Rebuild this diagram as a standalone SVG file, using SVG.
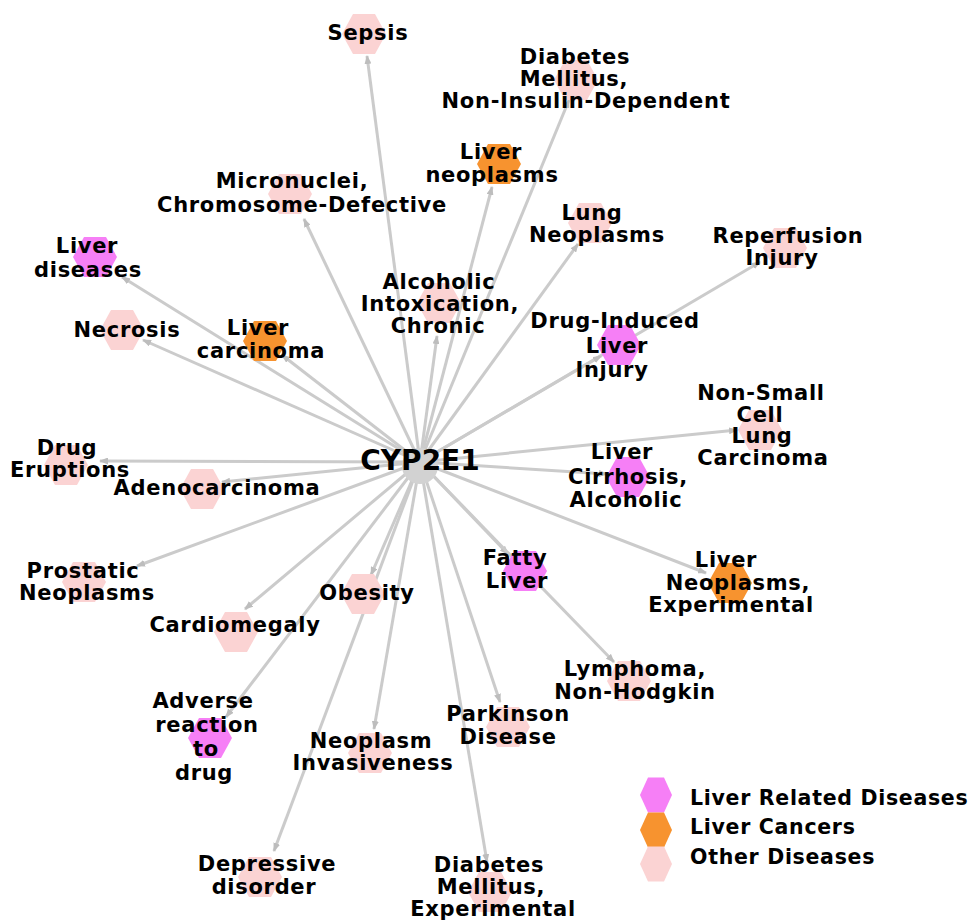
<svg xmlns="http://www.w3.org/2000/svg" width="971" height="923" viewBox="0 0 971 923">
<style>
.e{stroke:#cbcbcb;stroke-width:3;fill:none;marker-end:url(#ah)}
.p{fill:#fbd3d3}.m{fill:#f67ff6}.o{fill:#f7932f}
text{font-family:"DejaVu Sans",sans-serif;font-weight:bold;fill:#000}
.l{font-size:21px;letter-spacing:0.7px;text-anchor:middle}
.g{font-size:20.5px;letter-spacing:0.7px}
</style>
<defs>
<marker id="ah" markerUnits="userSpaceOnUse" markerWidth="9" markerHeight="7" refX="8" refY="3.5" orient="auto"><path d="M0,0 L9,3.5 L0,7 z" fill="#bdbdbd"/></marker>
<path id="hx" d="M-22,0 L-11,-20 L11,-20 L22,0 L11,20 L-11,20 z"/>
<path id="hs" d="M-16,0 L-8,-17.5 L8,-17.5 L16,0 L8,17.5 L-8,17.5 z"/>
</defs>
<rect width="971" height="923" fill="#fff"/>
<g id="edges">
<line class="e" x1="420" y1="462" x2="367" y2="56"/>
<line class="e" x1="420" y1="462" x2="569" y2="100"/>
<line class="e" x1="420" y1="462" x2="492" y2="187"/>
<line class="e" x1="420" y1="462" x2="304" y2="219"/>
<line class="e" x1="420" y1="462" x2="578" y2="244"/>
<line class="e" x1="420" y1="462" x2="760" y2="262"/>
<line class="e" x1="420" y1="462" x2="122" y2="277"/>
<line class="e" x1="420" y1="462" x2="437" y2="336"/>
<line class="e" x1="420" y1="462" x2="143" y2="340"/>
<line class="e" x1="420" y1="462" x2="282" y2="355"/>
<line class="e" x1="420" y1="462" x2="601" y2="356"/>
<line class="e" x1="420" y1="462" x2="737" y2="430"/>
<line class="e" x1="420" y1="462" x2="100" y2="461"/>
<line class="e" x1="420" y1="462" x2="222" y2="482"/>
<line class="e" x1="420" y1="462" x2="607" y2="474"/>
<line class="e" x1="420" y1="462" x2="137" y2="566"/>
<line class="e" x1="420" y1="462" x2="245" y2="609"/>
<line class="e" x1="420" y1="462" x2="371" y2="575"/>
<line class="e" x1="420" y1="462" x2="508" y2="554"/>
<line class="e" x1="420" y1="462" x2="706" y2="573"/>
<line class="e" x1="420" y1="462" x2="614" y2="662"/>
<line class="e" x1="420" y1="462" x2="226" y2="717"/>
<line class="e" x1="420" y1="462" x2="374" y2="729"/>
<line class="e" x1="420" y1="462" x2="500" y2="702"/>
<line class="e" x1="420" y1="462" x2="274" y2="851"/>
<line class="e" x1="420" y1="462" x2="487" y2="862"/>
</g>
<g id="n-sepsis"><use href="#hx" class="p" x="364" y="34"/><text class="l"><tspan x="368" y="40">Sepsis</tspan></text></g>
<g id="n-dm-nid"><use href="#hx" class="p" x="576" y="80"/><text class="l"><tspan x="575" y="64">Diabetes</tspan><tspan x="574" y="86">Mellitus,</tspan><tspan x="586" y="108">Non-Insulin-Dependent</tspan></text></g>
<g id="n-liver-neoplasms"><use href="#hx" class="o" x="499" y="164"/><text class="l"><tspan x="491" y="159">Liver</tspan><tspan x="492" y="182">neoplasms</tspan></text></g>
<g id="n-micronuclei"><use href="#hx" class="p" x="290" y="194"/><text class="l"><tspan x="292" y="188">Micronuclei,</tspan><tspan x="302" y="212">Chromosome-Defective</tspan></text></g>
<g id="n-lung-neoplasms"><use href="#hx" class="p" x="590" y="223"/><text class="l"><tspan x="592" y="220">Lung</tspan><tspan x="597" y="242">Neoplasms</tspan></text></g>
<g id="n-reperfusion"><use href="#hx" class="p" x="785" y="248"/><text class="l"><tspan x="788" y="243">Reperfusion</tspan><tspan x="782" y="265">Injury</tspan></text></g>
<g id="n-liver-diseases"><use href="#hx" class="m" x="95" y="257"/><text class="l"><tspan x="87" y="253">Liver</tspan><tspan x="88" y="277">diseases</tspan></text></g>
<g id="n-alcoholic"><use href="#hx" class="p" x="439" y="303"/><text class="l"><tspan x="439" y="289">Alcoholic</tspan><tspan x="440" y="311">Intoxication,</tspan><tspan x="438" y="333">Chronic</tspan></text></g>
<g id="n-necrosis"><use href="#hx" class="p" x="122" y="330"/><text class="l"><tspan x="127" y="337">Necrosis</tspan></text></g>
<g id="n-liver-carcinoma"><use href="#hx" class="o" x="265" y="341"/><text class="l"><tspan x="258" y="335">Liver</tspan><tspan x="261" y="358">carcinoma</tspan></text></g>
<g id="n-dili"><use href="#hx" class="m" x="619" y="345"/><text class="l"><tspan x="615" y="328">Drug-Induced</tspan><tspan x="617" y="353">Liver</tspan><tspan x="612" y="377">Injury</tspan></text></g>
<g id="n-nsclc"><use href="#hx" class="p" x="760" y="430"/><text class="l"><tspan x="761" y="400">Non-Small</tspan><tspan x="760" y="422">Cell</tspan><tspan x="762" y="443">Lung</tspan><tspan x="763" y="465">Carcinoma</tspan></text></g>
<g id="n-drug-eruptions"><use href="#hx" class="p" x="66" y="465"/><text class="l"><tspan x="67" y="455">Drug</tspan><tspan x="70" y="477">Eruptions</tspan></text></g>
<g id="n-adenocarcinoma"><use href="#hx" class="p" x="202" y="489"/><text class="l"><tspan x="217" y="495">Adenocarcinoma</tspan></text></g>
<g id="n-cirrhosis"><use href="#hx" class="m" x="628" y="477"/><text class="l"><tspan x="622" y="459">Liver</tspan><tspan x="628" y="484">Cirrhosis,</tspan><tspan x="626" y="507">Alcoholic</tspan></text></g>
<g id="n-prostatic"><use href="#hx" class="p" x="84" y="582"/><text class="l"><tspan x="83" y="578">Prostatic</tspan><tspan x="87" y="600">Neoplasms</tspan></text></g>
<g id="n-cardiomegaly"><use href="#hx" class="p" x="236" y="632"/><text class="l"><tspan x="235" y="632">Cardiomegaly</tspan></text></g>
<g id="n-obesity"><use href="#hx" class="p" x="363" y="594"/><text class="l"><tspan x="367" y="600">Obesity</tspan></text></g>
<g id="n-fatty-liver"><use href="#hx" class="m" x="525" y="571"/><text class="l"><tspan x="515" y="565">Fatty</tspan><tspan x="517" y="588">Liver</tspan></text></g>
<g id="n-liver-neo-exp"><use href="#hx" class="o" x="730" y="583"/><text class="l"><tspan x="726" y="567">Liver</tspan><tspan x="738" y="590">Neoplasms,</tspan><tspan x="731" y="612">Experimental</tspan></text></g>
<g id="n-lymphoma"><use href="#hx" class="p" x="629" y="681"/><text class="l"><tspan x="635" y="676">Lymphoma,</tspan><tspan x="635" y="699">Non-Hodgkin</tspan></text></g>
<g id="n-adverse"><use href="#hx" class="m" x="210" y="738"/><text class="l"><tspan x="203" y="708">Adverse</tspan><tspan x="207" y="732">reaction</tspan><tspan x="206" y="756">to</tspan><tspan x="204" y="780">drug</tspan></text></g>
<g id="n-neoplasm-inv"><use href="#hx" class="p" x="370" y="753"/><text class="l"><tspan x="371" y="748">Neoplasm</tspan><tspan x="373" y="770">Invasiveness</tspan></text></g>
<g id="n-parkinson"><use href="#hx" class="p" x="508" y="727"/><text class="l"><tspan x="508" y="721">Parkinson</tspan><tspan x="508" y="744">Disease</tspan></text></g>
<g id="n-depressive"><use href="#hx" class="p" x="260" y="877"/><text class="l"><tspan x="267" y="871">Depressive</tspan><tspan x="264" y="894">disorder</tspan></text></g>
<g id="n-dm-exp"><use href="#hx" class="p" x="490" y="892"/><text class="l"><tspan x="489" y="872">Diabetes</tspan><tspan x="491" y="894">Mellitus,</tspan><tspan x="493" y="916">Experimental</tspan></text></g>
<g id="n-cyp2e1"><circle cx="420" cy="466" r="18" fill="#d2d2d2"/><text x="420" y="470" font-size="28" text-anchor="middle">CYP2E1</text></g>
<g id="legend">
<use href="#hs" class="m" x="656" y="795"/>
<use href="#hs" class="o" x="656" y="830"/>
<use href="#hs" class="p" x="656" y="864"/>
<text class="g" x="690" y="805">Liver Related Diseases</text>
<text class="g" x="690" y="834">Liver Cancers</text>
<text class="g" x="690" y="864">Other Diseases</text>
</g>
</svg>
